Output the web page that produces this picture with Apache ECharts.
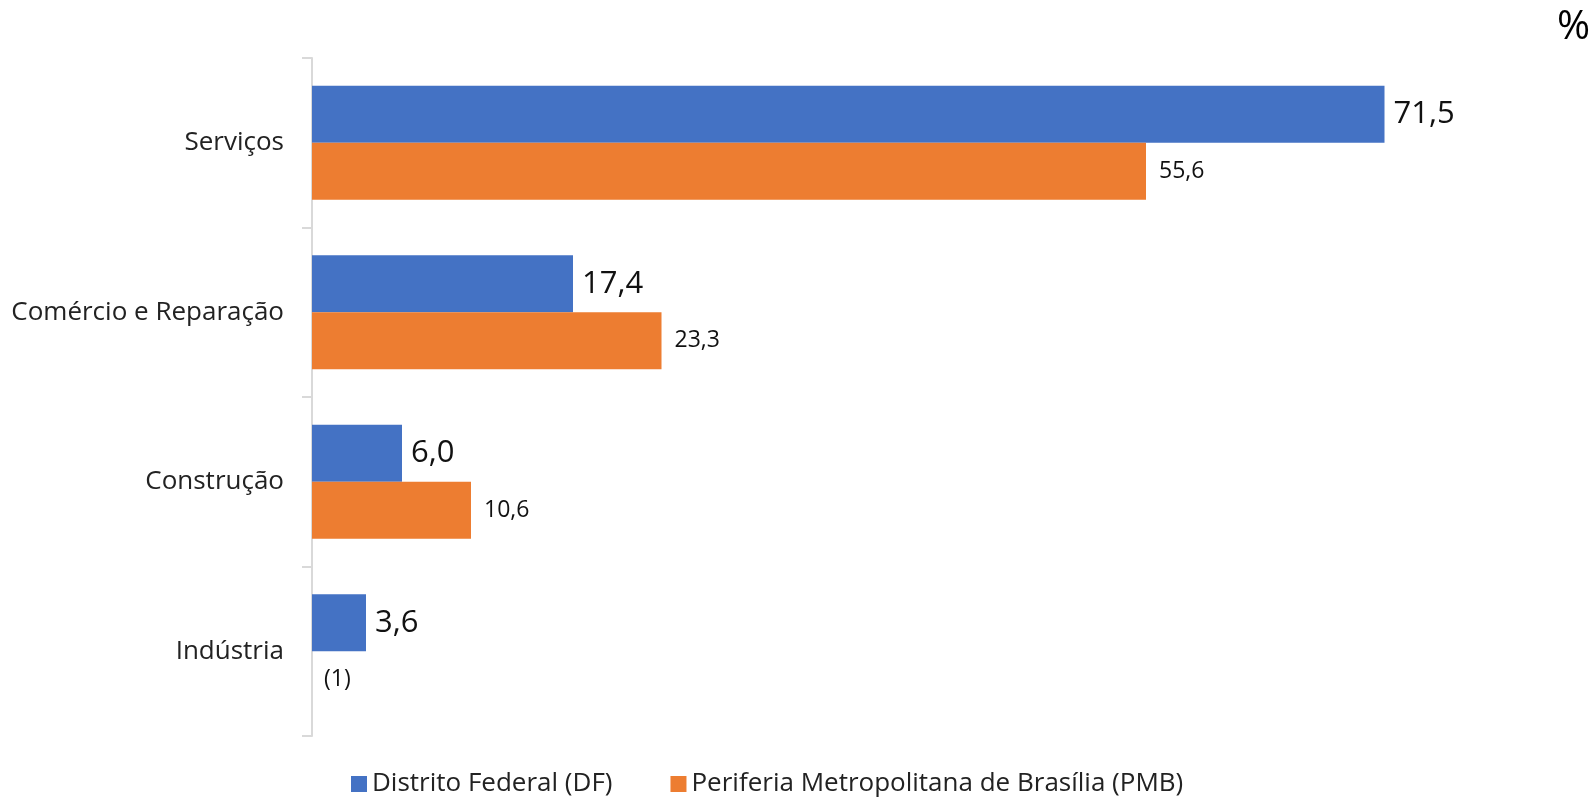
<!DOCTYPE html>
<html>
<head>
<meta charset="utf-8">
<script src="https://cdn.jsdelivr.net/npm/echarts@6/dist/echarts.min.js"></script>
<style>
  html, body { margin: 0; padding: 0; background: #fff; }
  #chart { width: 1594px; height: 802px; }
</style>
</head>
<body>
<div id="chart"></div>
<script>
const categories = ['Serviços', 'Comércio e Reparação', 'Construção', 'Indústria'];
const dfValues = [71.5, 17.4, 6.0, 3.6];
// Indústria has no PMB value, shown as note "(1)"
const pmbValues = [55.6, 23.3, 10.6, null];
const seriesNames = ['Distrito Federal (DF)', 'Periferia Metropolitana de Brasília (PMB)'];

const fmt = v => v.toFixed(1).replace('.', ',');

const chart = echarts.init(document.getElementById('chart'));

chart.setOption({
  animation: false,
  textStyle: { fontFamily: 'Open Sans' },
  grid: {
    left: 312,
    width: 1200,
    top: 58,
    bottom: 66
  },
  xAxis: {
    type: 'value',
    min: 0,
    max: 80,
    show: false
  },
  yAxis: {
    type: 'category',
    data: categories,
    inverse: true,
    axisLine: { show: true, lineStyle: { color: '#d9d9d9', width: 2 } },
    axisTick: { show: true, length: 10, lineStyle: { color: '#d9d9d9', width: 2 } },
    axisLabel: { color: '#222', fontSize: 26, margin: 28, fontFamily: 'Open Sans' }
  },
  legend: {
    bottom: 0,
    left: 346,
    itemWidth: 16,
    itemHeight: 16,
    itemGap: 58,
    icon: 'rect',
    textStyle: { color: '#222', fontSize: 26, fontFamily: 'Open Sans' },
    data: seriesNames
  },
  graphic: [{
    type: 'text',
    right: 4,
    top: 8,
    style: { text: '%', fontSize: 40, fill: '#000', fontFamily: 'Open Sans' }
  }],
  series: [{
    name: seriesNames[0],
    type: 'bar',
    data: dfValues,
    barWidth: 57,
    barGap: '0%',
    itemStyle: { color: '#4472C4' },
    label: {
      show: true,
      position: 'right',
      distance: 9,
      fontSize: 31,
      color: '#111',
      fontFamily: 'Open Sans',
      formatter: p => fmt(p.value)
    }
  }, {
    name: seriesNames[1],
    type: 'bar',
    data: pmbValues.map(v => v === null
      ? { value: 0, label: { formatter: '(1)', distance: 12 } }
      : v),
    barWidth: 57,
    barGap: '0%',
    itemStyle: { color: '#ED7D31' },
    label: {
      show: true,
      position: 'right',
      distance: 13,
      fontSize: 23,
      color: '#111',
      fontFamily: 'Open Sans',
      formatter: p => fmt(p.value)
    }
  }]
});
</script>
</body>
</html>
